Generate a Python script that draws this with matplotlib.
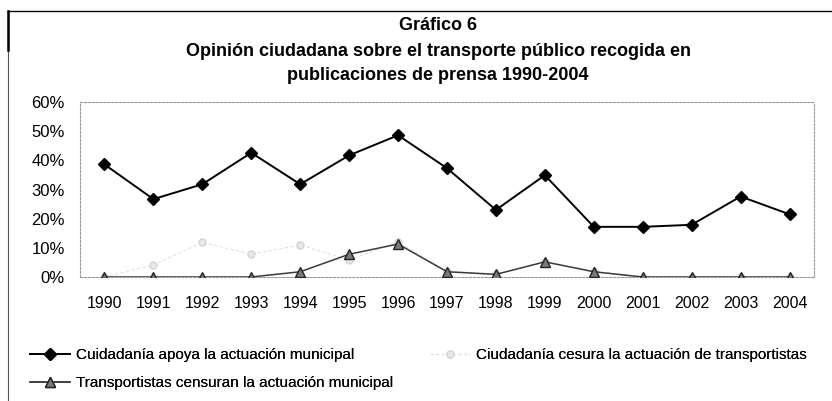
import matplotlib.pyplot as plt
from matplotlib.lines import Line2D
from matplotlib.ticker import PercentFormatter

plt.rcParams['font.family'] = ['Liberation Sans', 'DejaVu Sans']

years = ['1990', '1991', '1992', '1993', '1994', '1995', '1996', '1997',
         '1998', '1999', '2000', '2001', '2002', '2003', '2004']
apoya = [38.6, 26.7, 31.8, 42.6, 31.8, 41.7, 48.6, 37.3, 23.0, 34.9,
         17.2, 17.2, 17.9, 27.6, 21.5]
cesura = [0.0, 4.1, 11.9, 7.8, 11.0, 5.8, 12.0, 2.0, 1.0, 5.0,
          2.0, 0.0, 0.0, 0.0, 0.0]
censuran = [0.0, 0.0, 0.0, 0.0, 1.8, 7.8, 11.3, 1.8, 0.9, 5.2,
            1.8, 0.0, 0.0, 0.0, 0.0]

labels = ['Cuidadanía apoya la actuación municipal',
          'Ciudadanía cesura la actuación de transportistas',
          'Transportistas censuran la actuación municipal']

fig = plt.figure(figsize=(8.32, 4.01), dpi=100)
ax = fig.add_axes([80 / 832, 1 - 277 / 401, 734 / 832, 175 / 401])

x = range(len(years))
l2, = ax.plot(x, [v / 100 for v in cesura], color='#e2e2e2', lw=0.8,
              ls=(0, (3, 2)), marker='o', ms=5, mfc='#e8e8e8',
              mec='#d4d4d4', zorder=2)
l3, = ax.plot(x, [v / 100 for v in censuran], color='#3a3a3a', lw=1.1,
              marker='^', ms=7, mfc='#7a7a7a', mec='#222222', zorder=3)
l1, = ax.plot(x, [v / 100 for v in apoya], color='black', lw=1.4,
              marker='D', ms=6.5, mfc='black', mec='black', zorder=4)

ax.set_xlim(-0.5, len(years) - 0.5)
ax.set_ylim(0, 0.6)
ax.set_yticks([0, 0.1, 0.2, 0.3, 0.4, 0.5, 0.6])
ax.yaxis.set_major_formatter(PercentFormatter(1.0, decimals=0))
ax.set_xticks(list(x))
ax.set_xticklabels(years)
ax.tick_params(length=0)
ax.tick_params(axis='y', labelsize=12, pad=11)
ax.tick_params(axis='x', labelsize=11.5, pad=14)
for s in ax.spines.values():
    s.set_color('#9a9a9a')
    s.set_linestyle((0, (2, 1.5)))
    s.set_linewidth(0.8)

# title
tx = 438 / 832
fig.text(tx, 1 - 25 / 401, 'Gráfico 6', ha='center', va='center',
         fontsize=13, fontweight='bold')
fig.text(tx, 1 - 51 / 401,
         'Opinión ciudadana sobre el transporte público recogida en',
         ha='center', va='center', fontsize=13, fontweight='bold')
fig.text(tx, 1 - 75 / 401, 'publicaciones de prensa 1990-2004',
         ha='center', va='center', fontsize=13, fontweight='bold')

# legend, one entry at a time
leg_kw = dict(loc='center left', frameon=False, prop={'size': 11},
              handlelength=2.6, handletextpad=0.4, borderpad=0,
              borderaxespad=0)
spots = [(30, 355), (430, 355), (30, 383)]
for line, lab, (px, py) in zip([l1, l2, l3], labels, spots):
    fig.add_artist(fig.legend([line], [lab],
                              bbox_to_anchor=(px / 832, 1 - py / 401),
                              **leg_kw))

# frame lines of the scanned page
fig.add_artist(Line2D([8 / 832, 1], [1 - 11 / 401, 1 - 11 / 401],
                      color='black', lw=1.0, transform=fig.transFigure))
fig.add_artist(Line2D([8 / 832, 8 / 832], [0, 1 - 11 / 401],
                      color='#555555', lw=0.8, transform=fig.transFigure))
fig.add_artist(Line2D([8 / 832, 8 / 832], [1 - 50 / 401, 1 - 11 / 401],
                      color='black', lw=1.8, transform=fig.transFigure))

fig.savefig('out.png', dpi=100)
